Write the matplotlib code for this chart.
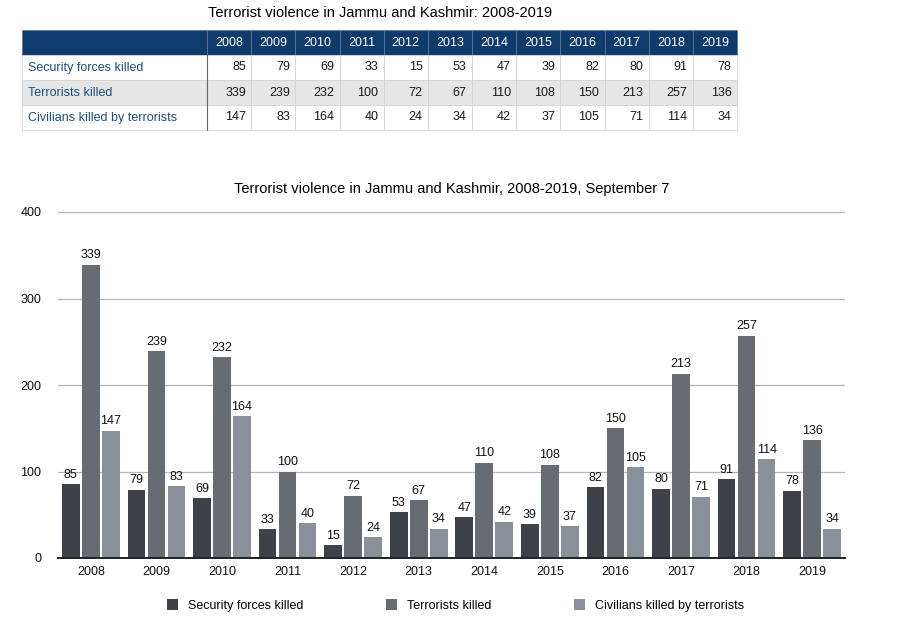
import matplotlib.pyplot as plt
import numpy as np

plt.rcParams['font.family'] = ['Liberation Sans', 'DejaVu Sans']

years = ['2008', '2009', '2010', '2011', '2012', '2013',
         '2014', '2015', '2016', '2017', '2018', '2019']
security = [85, 79, 69, 33, 15, 53, 47, 39, 82, 80, 91, 78]
terrorists = [339, 239, 232, 100, 72, 67, 110, 108, 150, 213, 257, 136]
civilians = [147, 83, 164, 40, 24, 34, 42, 37, 105, 71, 114, 34]
row_names = ['Security forces killed', 'Terrorists killed', 'Civilians killed by terrorists']

colors = ['#3e4248', '#676b72', '#8a9099']
navy = '#0e3a6c'

W, H = 922, 631
fig = plt.figure(figsize=(W / 100, H / 100), dpi=100)

# ---- table on top ----
fig.text(380 / W, 1 - 13 / H, 'Terrorist violence in Jammu and Kashmir: 2008-2019',
         ha='center', va='center', fontsize=10.5)

tax = fig.add_axes([0, 0, 1, 1])
tax.axis('off')
cell_text = [[''] + years]
for name, vals in zip(row_names, [security, terrorists, civilians]):
    cell_text.append([name] + [str(v) for v in vals])
first_w = 185 / 715
col_w = [first_w] + [(1 - first_w) / 12] * 12
tbl = tax.table(cellText=cell_text, colWidths=col_w,
                bbox=[22 / W, 1 - 130 / H, 715 / W, 100 / H])
tbl.auto_set_font_size(False)
row_bg = ['white', '#e6e6e6', 'white']
for (r, c), cell in tbl.get_celld().items():
    cell.set_fontsize(9)
    txt = cell.get_text()
    cell.set_linewidth(0.6)
    if r == 0:
        cell.set_facecolor(navy)
        cell.set_edgecolor('#5a7699')
        txt.set_color('white')
        txt.set_ha('center')
    else:
        cell.set_facecolor(row_bg[r - 1])
        cell.set_edgecolor('#d4d4d4')
        if c == 0:
            txt.set_color('#1d4f7c')
            txt.set_ha('left')
            cell.PAD = 0.03
        else:
            txt.set_color('#1a1a1a')
            txt.set_ha('right')
            cell.PAD = 0.12
# darker line after the row labels
tax.plot([207 / W, 207 / W], [1 - 130 / H, 1 - 55 / H], color='#666666', lw=0.8,
         transform=fig.transFigure)

# ---- bar chart ----
ax = fig.add_axes([58 / W, 1 - 558 / H, 787 / W, 346 / H])
x = np.arange(len(years))
off = 0.305
bw = 0.27
series = [security, terrorists, civilians]
for i, (vals, col, name) in enumerate(zip(series, colors, row_names)):
    ax.bar(x + (i - 1) * off, vals, bw, color=col, label=name, zorder=3)
    for xi, v in zip(x + (i - 1) * off, vals):
        ax.text(xi, v + 4, str(v), ha='center', va='bottom', fontsize=9, color='#111111')

ax.set_xlim(-0.5, 11.5)
ax.set_ylim(0, 400)
ax.set_yticks([0, 100, 200, 300, 400])
ax.set_xticks(x)
ax.set_xticklabels(years)
ax.grid(axis='y', color='#b5b5b5', lw=0.9, zorder=0)
for s in ['top', 'right', 'left']:
    ax.spines[s].set_visible(False)
ax.spines['bottom'].set_color('#222222')
ax.spines['bottom'].set_linewidth(1.4)
ax.spines['bottom'].set_zorder(4)
ax.tick_params(axis='both', length=0, labelsize=9, colors='#111111')
ax.tick_params(axis='y', pad=12)
ax.tick_params(axis='x', pad=6)
ax.set_title('Terrorist violence in Jammu and Kashmir, 2008-2019, September 7',
             fontsize=10.5, pad=14)

ax.legend(loc='upper center', bbox_to_anchor=(0.505, -0.087), ncol=3, frameon=False,
          fontsize=9, handlelength=0.9, handleheight=0.9, columnspacing=6.6,
          handletextpad=0.8)

fig.savefig('out.png', dpi=100)
